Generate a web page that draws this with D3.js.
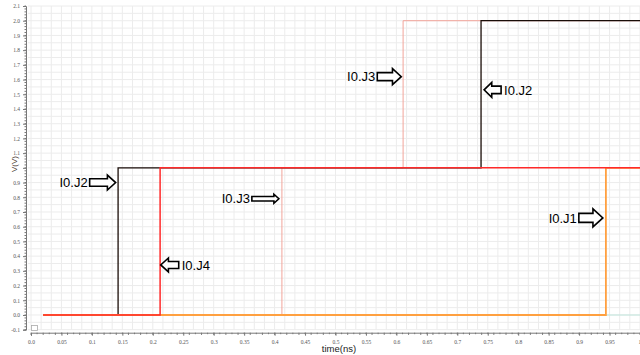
<!DOCTYPE html>
<html>
<head>
<meta charset="utf-8">
<script src="https://cdn.jsdelivr.net/npm/d3@7"></script>
<style>
  html, body { margin: 0; padding: 0; background: #fff; }
  svg { display: block; }
</style>
</head>
<body>
<svg id="chart"></svg>
<script>
// Transient plot: five step traces, V(V) against time(ns).

// --- data ---
const TIME_J3 = [0.02, 0.412, 0.412, 0.611, 0.611, 1.0];
const V_J3    = [0,    0,     1,     1,     2,     2];
const TIME_J2 = [0.02, 0.143, 0.143, 0.739, 0.739, 1.0];
const V_J2    = [0,    0,     1,     1,     2,     2];
const TIME_J1 = [0.02, 0.944, 0.944, 1.0];
const V_J1    = [0,    0,     1,     1];
const TIME_J4 = [0.02, 0.212, 0.212, 1.0];
const V_J4    = [0,    0,     1,     1];
const TIME_J0 = [0.02, 1.0];
const V_J0    = [0,    0];

const X_TICKS = [0, 0.05, 0.1, 0.15, 0.2, 0.25, 0.3, 0.35, 0.4, 0.45, 0.5,
                 0.55, 0.6, 0.65, 0.7, 0.75, 0.8, 0.85, 0.9, 0.95, 1.0];
const X_TICK_LABELS = ["0.0", "0.05", "0.1", "0.15", "0.2", "0.25", "0.3", "0.35", "0.4", "0.45", "0.5",
                       "0.55", "0.6", "0.65", "0.7", "0.75", "0.8", "0.85", "0.9", "0.95", "1."];
// 1.0 label is covered by the V(V) title in the original
const Y_TICKS = d3.range(-1, 22).map(i => i / 10);
const Y_TICK_LABELS = Y_TICKS.map(v => Math.abs(v - 1) < 1e-9 ? "" : v.toFixed(1));

// annotations: label, time/volt anchor of the arrow tip, direction
const NOTE_LABELS = ["I0.J2", "I0.J4", "I0.J3", "I0.J3", "I0.J2", "I0.J1"];
const NOTE_TIME   = [0.139, 0.213, 0.407, 0.608, 0.744, 0.939];
const NOTE_VOLT   = [0.90,  0.34,  0.79,  1.62,  1.53,  0.66];
const NOTE_DIR    = ["right", "left", "right", "right", "left", "right"];
const NOTE_LEN    = [26, 18, 27, 24, 17, 24];
const NOTE_H      = [15, 14, 9, 16, 15, 18];

(function () {
  const W = 640, H = 355;
  const X0 = 31, X1 = 640, YTOP = 6, YBOT = 329.7;

  const svg = d3.select("#chart").attr("width", W).attr("height", H);

  const x = d3.scaleLinear().domain([0, 1]).range([X0, X1]);
  const y = d3.scaleLinear().domain([-0.1, 2.1]).range([YBOT, YTOP]);

  // grid
  const grid = svg.append("g");
  grid.selectAll("line.gx")
    .data(d3.range(0, 61).map(i => i / 60))
    .join("line")
    .attr("x1", d => x(d)).attr("x2", d => x(d))
    .attr("y1", YTOP).attr("y2", YBOT)
    .attr("stroke", "#ececec").attr("stroke-width", 1);
  grid.selectAll("line.gy")
    .data(d3.range(-2, 43).map(i => i / 20))
    .join("line")
    .attr("x1", X0 - 3).attr("x2", X1)
    .attr("y1", d => y(d)).attr("y2", d => y(d))
    .attr("stroke", "#ececec").attr("stroke-width", 1);

  // y axis
  const yAxis = svg.append("g").attr("transform", `translate(${X0 - 5},0)`);
  yAxis.call(d3.axisLeft(y).tickValues(Y_TICKS).tickSize(3)
      .tickFormat((d, i) => Y_TICK_LABELS[i]));
  yAxis.append("g").selectAll("line")
    .data(d3.range(-5, 106).map(i => i / 50))
    .join("line")
    .attr("x1", 0).attr("x2", -1.5)
    .attr("y1", d => y(d)).attr("y2", d => y(d))
    .attr("stroke", "#777");
  yAxis.select(".domain").attr("stroke", "#777");
  yAxis.selectAll(".tick line").attr("stroke", "#777");
  yAxis.selectAll(".tick text")
    .attr("font-family", "Liberation Serif, serif")
    .attr("font-size", 5.5).attr("fill", "#555").attr("x", -6);

  // x axis
  const xAxis = svg.append("g").attr("transform", `translate(0,${YBOT + 3})`);
  xAxis.call(d3.axisBottom(x).tickValues(X_TICKS).tickSize(3)
      .tickFormat((d, i) => X_TICK_LABELS[i]));
  xAxis.append("g").selectAll("line")
    .data(d3.range(0, 101).map(i => i / 100))
    .join("line")
    .attr("x1", d => x(d)).attr("x2", d => x(d))
    .attr("y1", 0).attr("y2", (d, i) => i % 2 ? 1.5 : 2.2)
    .attr("stroke", "#777");
  xAxis.select(".domain").attr("stroke", "#777");
  xAxis.selectAll(".tick line").attr("stroke", "#777");
  xAxis.selectAll(".tick text")
    .attr("font-family", "Liberation Serif, serif")
    .attr("font-size", 5.5).attr("fill", "#555").attr("y", 7);

  // axis titles
  svg.append("text")
    .attr("x", 339).attr("y", 352)
    .attr("text-anchor", "middle")
    .attr("font-family", "Liberation Sans, Arial, sans-serif")
    .attr("font-size", 9.5).attr("fill", "#222")
    .text("time(ns)");
  svg.append("text")
    .attr("transform", "translate(17,164) rotate(-90)")
    .attr("text-anchor", "middle")
    .attr("font-family", "Liberation Sans, Arial, sans-serif")
    .attr("font-size", 8).attr("fill", "#4a3a30")
    .text("V(V)");

  // small legend box bottom-left
  svg.append("rect")
    .attr("x", 31.5).attr("y", 325.5).attr("width", 6).attr("height", 5)
    .attr("fill", "#fff").attr("stroke", "#aaa").attr("stroke-width", 0.8);

  // traces (draw order: underneath first)
  const series = [
    { t: TIME_J0, v: V_J0, color: "#bfe6dc", w: 1.2 },
    { t: TIME_J3, v: V_J3, color: "#f2a49a", w: 1 },
    { t: TIME_J2, v: V_J2, color: "#1a0d08", w: 1.3 },
    { t: TIME_J1, v: V_J1, color: "#ffa040", w: 1.8 },
    { t: TIME_J4, v: V_J4, color: "#ff2a2a", w: 1.5 }
  ];
  const line = d3.line().x(d => x(d[0])).y(d => y(d[1]));
  series.forEach(s => {
    svg.append("path")
      .datum(d3.zip(s.t, s.v))
      .attr("fill", "none")
      .attr("stroke", s.color)
      .attr("stroke-width", s.w)
      .attr("d", line);
  });

  // block-arrow annotations
  NOTE_LABELS.forEach((label, i) => {
    const tip = x(NOTE_TIME[i]), cy = y(NOTE_VOLT[i]);
    const sgn = NOTE_DIR[i] === "right" ? 1 : -1;
    const len = NOTE_LEN[i], h = NOTE_H[i] / 2, sh = h * 0.5;
    const head = Math.min(len * 0.45, h * 1.1);
    const tail = tip - sgn * len, neck = tip - sgn * head;
    const pts = [[tail, cy - sh], [neck, cy - sh], [neck, cy - h], [tip, cy],
                 [neck, cy + h], [neck, cy + sh], [tail, cy + sh]];
    svg.append("path")
      .attr("d", "M" + pts.map(p => p.join(",")).join("L") + "Z")
      .attr("fill", "#fff").attr("stroke", "#000").attr("stroke-width", 1.6)
      .attr("stroke-linejoin", "miter");
    svg.append("text")
      .attr("x", sgn > 0 ? tail - 2 : tail + 3)
      .attr("y", cy)
      .attr("dy", "0.36em")
      .attr("text-anchor", sgn > 0 ? "end" : "start")
      .attr("font-family", "Liberation Sans, Arial, sans-serif")
      .attr("font-size", 13).attr("fill", "#000")
      .text(label);
  });
})();
</script>
</body>
</html>
